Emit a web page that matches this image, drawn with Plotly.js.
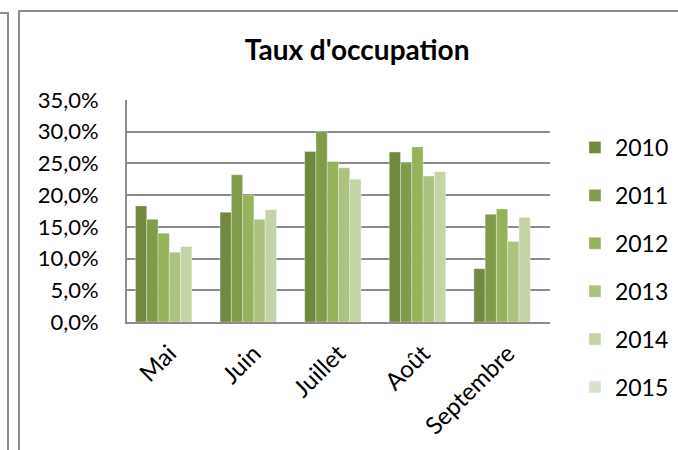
<!DOCTYPE html>
<html>
<head>
<meta charset="utf-8">
<script src="https://cdn.plot.ly/plotly-3.0.1.min.js"></script>
<style>
html,body{margin:0;padding:0;background:#fff;}
#wrap{position:relative;width:678px;height:450px;overflow:hidden;}
#chart{position:absolute;left:0;top:0;width:678px;height:450px;}
.b1{position:absolute;left:-5px;top:12px;width:12px;height:460px;border-top:2px solid #8c8c8c;border-right:2px solid #8c8c8c;}
.b2{position:absolute;left:18px;top:10px;width:700px;height:460px;border-top:2px solid #8c8c8c;border-left:2px solid #8c8c8c;}
</style>
</head>
<body>
<div id="wrap">
<div class="b1"></div>
<div class="b2"></div>
<div id="chart"></div>
</div>
<script>
var months = ["Mai", "Juin", "Juillet", "Août", "Septembre"];
var years = ["2010", "2011", "2012", "2013", "2014", "2015"];
var v2010 = [18.3, 17.3, 26.9, 26.8, 8.4];
var v2011 = [16.2, 23.2, 30.0, 25.1, 17.0];
var v2012 = [14.0, 20.0, 25.3, 27.6, 17.8];
var v2013 = [11.0, 16.2, 24.3, 23.0, 12.7];
var v2014 = [11.9, 17.7, 22.5, 23.7, 16.5];
var v2015 = [null, null, null, null, null];
var colors = ["#71893f", "#809b49", "#94b35a", "#abc37f", "#c4d4a6", "#d7e3c9"];
var series = [v2010, v2011, v2012, v2013, v2014, v2015];
var yTicks = [0, 5, 10, 15, 20, 25, 30, 35];
var yTickText = ["0,0%", "5,0%", "10,0%", "15,0%", "20,0%", "25,0%", "30,0%", "35,0%"];

var traces = series.map(function (vals, i) {
  return {
    type: "bar",
    name: years[i],
    x: months,
    y: vals,
    legendgroup: years[i],
    marker: {color: colors[i], line: {color: "rgba(255,255,255,0.35)", width: 1}},
    hoverinfo: "x+y+name"
  };
});

var FONT = "Lato, 'Open Sans', sans-serif";
var layout = {
  width: 678,
  height: 450,
  margin: {l: 127, r: 128, t: 100, b: 128, autoexpand: false},
  paper_bgcolor: "rgba(0,0,0,0)",
  plot_bgcolor: "rgba(0,0,0,0)",
  barmode: "group",
  bargap: 0.2,
  bargroupgap: 0,
  font: {family: FONT, color: "#000", size: 22},
  title: {
    text: "<b>Taux d'occupation</b>",
    font: {family: FONT, size: 28, color: "#000"},
    x: 0.544, xanchor: "center", xref: "paper",
    y: 0.888, yanchor: "middle"
  },
  xaxis: {
    type: "category",
    tickangle: -45,
    showgrid: false,
    showline: true,
    linecolor: "#8c8c8c",
    linewidth: 2,
    ticks: "",
    ticklabelstandoff: 6,
    tickfont: {family: FONT, size: 24, color: "#000"},
    fixedrange: true
  },
  yaxis: {
    range: [0, 35],
    tickvals: yTicks,
    ticktext: yTickText,
    showgrid: true,
    gridcolor: "#8c8c8c",
    gridwidth: 2,
    showline: true,
    linecolor: "#8c8c8c",
    linewidth: 2,
    zeroline: false,
    ticks: "",
    ticklabelstandoff: 22,
    tickfont: {family: FONT, size: 22, color: "#000"},
    fixedrange: true
  },
  showlegend: true,
  legend: {
    xref: "container", yref: "container",
    x: 0.848, xanchor: "left",
    y: 0.72, yanchor: "top",
    traceorder: "grouped",
    tracegroupgap: 15,
    maxheight: 1,
    font: {family: FONT, size: 23, color: "#000"},
    bgcolor: "rgba(0,0,0,0)"
  }
};

Plotly.newPlot("chart", traces, layout, {displayModeBar: false, staticPlot: true});
</script>
</body>
</html>
